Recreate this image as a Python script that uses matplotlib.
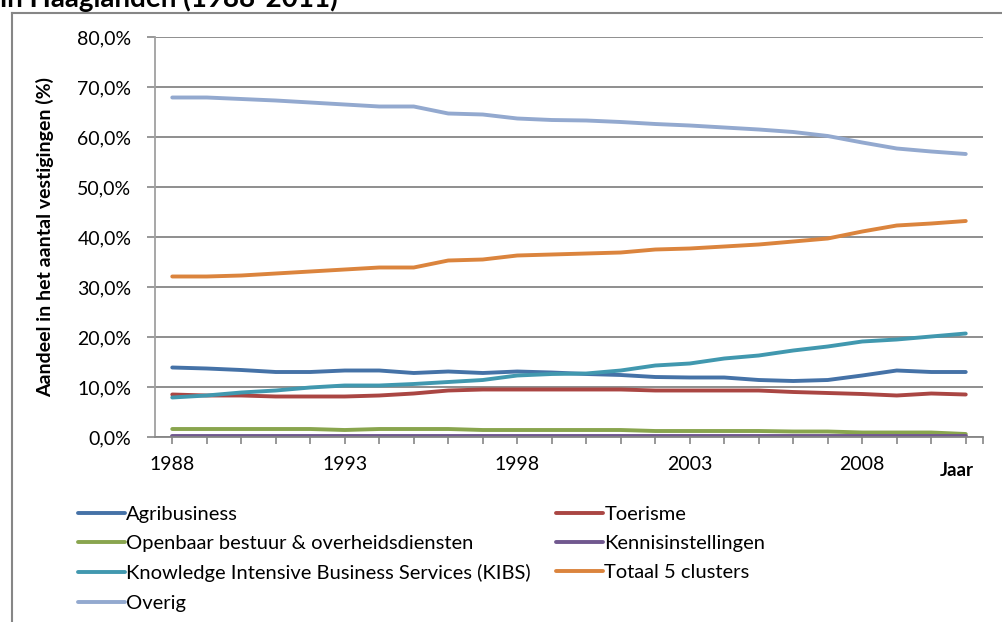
import matplotlib.pyplot as plt
from matplotlib.lines import Line2D
from matplotlib.ticker import FuncFormatter

plt.rcParams["font.family"] = ["Lato", "DejaVu Sans"]

years = list(range(1988, 2012))

agribusiness = [13.9, 13.7, 13.4, 13.0, 13.0, 13.3, 13.3, 12.8, 13.1, 12.8, 13.1, 12.9,
                12.6, 12.4, 12.0, 11.9, 11.9, 11.4, 11.2, 11.4, 12.3, 13.3, 13.0, 13.0]
toerisme = [8.5, 8.3, 8.3, 8.1, 8.1, 8.1, 8.3, 8.7, 9.3, 9.5, 9.5, 9.5,
            9.5, 9.5, 9.3, 9.3, 9.3, 9.3, 9.0, 8.8, 8.6, 8.3, 8.7, 8.5]
openbaar = [1.6, 1.6, 1.6, 1.6, 1.6, 1.4, 1.6, 1.6, 1.6, 1.4, 1.4, 1.4,
            1.4, 1.4, 1.2, 1.2, 1.2, 1.2, 1.1, 1.1, 0.9, 0.9, 0.9, 0.6]
kennis = [0.3, 0.3, 0.3, 0.3, 0.3, 0.3, 0.3, 0.3, 0.3, 0.3, 0.3, 0.3,
          0.3, 0.3, 0.3, 0.3, 0.3, 0.3, 0.3, 0.3, 0.3, 0.3, 0.3, 0.3]
kibs = [7.9, 8.3, 8.9, 9.3, 9.9, 10.3, 10.3, 10.6, 11.0, 11.4, 12.3, 12.6,
        12.7, 13.3, 14.3, 14.7, 15.7, 16.3, 17.3, 18.1, 19.1, 19.5, 20.1, 20.7]
totaal = [32.1, 32.1, 32.3, 32.7, 33.1, 33.5, 33.9, 33.9, 35.3, 35.5, 36.3, 36.5,
          36.7, 36.9, 37.5, 37.7, 38.1, 38.5, 39.1, 39.7, 41.1, 42.3, 42.7, 43.2]
overig = [67.9, 67.9, 67.6, 67.3, 66.9, 66.5, 66.1, 66.1, 64.7, 64.5, 63.7, 63.4,
          63.3, 63.0, 62.6, 62.3, 61.9, 61.5, 61.0, 60.2, 58.9, 57.7, 57.1, 56.6]

series = [
    ("Agribusiness", agribusiness, "#4572A7"),
    ("Toerisme", toerisme, "#AA4643"),
    ("Openbaar bestuur & overheidsdiensten", openbaar, "#89A54E"),
    ("Kennisinstellingen", kennis, "#71588F"),
    ("Knowledge Intensive Business Services (KIBS)", kibs, "#4198AF"),
    ("Totaal 5 clusters", totaal, "#DB843D"),
    ("Overig", overig, "#93A9CF"),
]

grid_col = "#868686"

fig = plt.figure(figsize=(10.02, 6.22), dpi=100)
ax = fig.add_axes([155 / 1002, 1 - 437 / 622, 828 / 1002, 400 / 622])

for name, vals, col in series:
    ax.plot(years, vals, color=col, lw=2.8, solid_capstyle="round", label=name)

ax.set_xlim(1987.5, 2011.5)
ax.set_ylim(0, 80)
ax.set_yticks(range(0, 81, 10))
ax.yaxis.set_major_formatter(FuncFormatter(lambda v, p: f"{v:.1f}%".replace(".", ",")))
ax.set_xticks([1988, 1993, 1998, 2003, 2008])
ax.set_xticks(years + [2011.5], minor=True)
ax.tick_params(axis="x", which="both", length=5, color=grid_col, width=1.2,
               labelsize=14, pad=9, labelcolor="black")
ax.tick_params(axis="y", length=6, color=grid_col, width=1.2, labelsize=14, pad=11)
ax.grid(axis="y", color=grid_col, lw=1.3)
ax.set_axisbelow(True)
for s in ["top", "right"]:
    ax.spines[s].set_visible(False)
ax.spines["left"].set_color("#A0A0A0")
ax.spines["left"].set_linewidth(1.3)
ax.spines["bottom"].set_color(grid_col)
ax.spines["bottom"].set_linewidth(1.3)

ax.set_ylabel("Aandeel in het aantal vestigingen (%)", fontsize=14, fontweight="bold",
              labelpad=17)
ax.text(2010.75, -5.0, "Jaar", fontsize=13.5, fontweight="bold", ha="center", va="top")

fig.text(0.0, 1 - 7 / 622, "in Haaglanden (1988-2011)", fontsize=20, fontweight="bold",
         ha="left", va="baseline")

# outer frame of the chart object
fig.add_artist(Line2D([12 / 1002, 12 / 1002], [0, 1 - 13 / 622], color=grid_col, lw=1.5))
fig.add_artist(Line2D([12 / 1002, 1.0], [1 - 13 / 622, 1 - 13 / 622], color=grid_col, lw=1.5))

handles, labels = ax.get_legend_handles_labels()
order = [0, 2, 4, 6, 1, 3, 5]
fig.legend([handles[i] for i in order], [labels[i] for i in order],
           loc="upper left", bbox_to_anchor=(78 / 1002, 1 - 506 / 622), ncol=2,
           frameon=False, fontsize=14.5, handlelength=2.35, handletextpad=0.05,
           columnspacing=1.25, labelspacing=0.6, borderaxespad=0, borderpad=0)

fig.savefig("out.png", dpi=100)
